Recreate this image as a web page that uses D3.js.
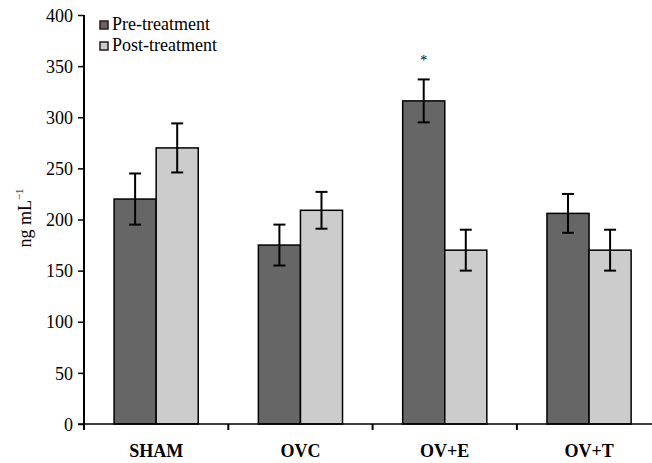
<!DOCTYPE html>
<meta charset="utf-8">
<style>
body { margin: 0; background: #fff; }
svg { display: block; }
svg text { font-family: "Liberation Serif", "Times New Roman", Times, serif; fill: #000; }
</style>
<svg width="652" height="463"></svg>
<script src="https://d3js.org/d3.v7.min.js"></script>
<script>

var groups = ["SHAM", "OVC", "OV+E", "OV+T"],
    series = ["Pre-treatment", "Post-treatment"],
    colors = ["#666666", "#cccccc"];

var preValues  = [220, 175, 316, 206],
    preErrors  = [25, 20, 21, 19],
    postValues = [270, 209, 170, 170],
    postErrors = [24, 18, 20, 20];

var yTicks = [0, 50, 100, 150, 200, 250, 300, 350, 400];
var marks = ["", "", "*", ""];

var serif = "'Liberation Serif', 'Times New Roman', serif";

var svg = d3.select("svg");

var x0 = 84, yBottom = 424, yTop = 15;

var x = d3.scaleBand()
    .domain(groups)
    .range([x0, x0 + 4 * 144.3])
    .paddingInner(0)
    .paddingOuter(0);

var xs = d3.scaleBand()
    .domain(series)
    .range([0, x.bandwidth()])
    .paddingInner(0)
    .paddingOuter(0.715);

var y = d3.scaleLinear()
    .domain([0, 400])
    .range([yBottom, yTop]);

var data = [];
groups.forEach(function(g, i) {
  data.push({ g: g, s: series[0], v: preValues[i], e: preErrors[i], c: colors[0] });
  data.push({ g: g, s: series[1], v: postValues[i], e: postErrors[i], c: colors[1] });
});

// y axis
var yAxis = svg.append("g")
    .attr("transform", "translate(" + x0 + ",0)")
    .call(d3.axisLeft(y).tickValues(yTicks).tickSize(6).tickPadding(5));
yAxis.attr("font-family", serif).attr("font-size", 18);
yAxis.select(".domain").remove();
yAxis.selectAll(".tick line").attr("stroke", "#000").attr("stroke-width", 1.5);
yAxis.selectAll(".tick text").attr("dy", "0.34em");
svg.append("line")
    .attr("x1", x0).attr("x2", x0)
    .attr("y1", yTop).attr("y2", yBottom + 6)
    .attr("stroke", "#000").attr("stroke-width", 2);

// bars
svg.append("g").selectAll("rect")
    .data(data)
  .enter().append("rect")
    .attr("x", function(d) { return x(d.g) + xs(d.s); })
    .attr("y", function(d) { return y(d.v); })
    .attr("width", xs.bandwidth())
    .attr("height", function(d) { return y(0) - y(d.v); })
    .attr("fill", function(d) { return d.c; })
    .attr("stroke", "#000")
    .attr("stroke-width", 1.5);

// error bars
var err = svg.append("g").selectAll("g")
    .data(data)
  .enter().append("g")
    .attr("transform", function(d) { return "translate(" + (x(d.g) + xs(d.s) + xs.bandwidth() / 2) + ",0)"; })
    .attr("stroke", "#000")
    .attr("stroke-width", 2);
err.append("line")
    .attr("y1", function(d) { return y(d.v + d.e); })
    .attr("y2", function(d) { return y(d.v - d.e); });
err.append("line")
    .attr("x1", -6).attr("x2", 6)
    .attr("y1", function(d) { return y(d.v + d.e); })
    .attr("y2", function(d) { return y(d.v + d.e); });
err.append("line")
    .attr("x1", -6).attr("x2", 6)
    .attr("y1", function(d) { return y(d.v - d.e); })
    .attr("y2", function(d) { return y(d.v - d.e); });

// significance marks
svg.append("g").selectAll("text")
    .data(groups)
  .enter().append("text")
    .attr("x", function(g) { return x(g) + xs(series[0]) + xs.bandwidth() / 2; })
    .attr("y", function(g, i) { return y(preValues[i] + preErrors[i]) - 14; })
    .attr("text-anchor", "middle")
    .attr("font-family", serif)
    .attr("font-size", 14)
    .text(function(g, i) { return marks[i]; });

// x axis
svg.append("line")
    .attr("x1", x0 - 6).attr("x2", 652)
    .attr("y1", yBottom).attr("y2", yBottom)
    .attr("stroke", "#000").attr("stroke-width", 1.5);
svg.append("g").selectAll("line")
    .data(groups.slice(1))
  .enter().append("line")
    .attr("x1", function(g) { return x(g); })
    .attr("x2", function(g) { return x(g); })
    .attr("y1", yBottom).attr("y2", yBottom + 6)
    .attr("stroke", "#000").attr("stroke-width", 2);

svg.append("g").selectAll("text")
    .data(groups)
  .enter().append("text")
    .attr("x", function(g) { return x(g) + x.bandwidth() / 2; })
    .attr("y", 457)
    .attr("text-anchor", "middle")
    .attr("font-family", serif)
    .attr("font-size", 18)
    .attr("font-weight", "bold")
    .text(function(g) { return g; });

// y label
var yl = svg.append("text")
    .attr("transform", "translate(31,218) rotate(-90)")
    .attr("text-anchor", "middle")
    .attr("font-family", serif)
    .attr("font-size", 18);
yl.append("tspan").text("ng mL");
yl.append("tspan").attr("dy", -8).attr("font-size", 11).text("\u22121");

// legend
var legend = svg.append("g")
    .selectAll("g")
    .data(series)
  .enter().append("g")
    .attr("transform", function(d, i) { return "translate(100," + (21 + i * 21) + ")"; });
legend.append("rect")
    .attr("width", 8).attr("height", 8)
    .attr("fill", function(d, i) { return colors[i]; })
    .attr("stroke", "#2a1a1a").attr("stroke-width", 1.5);
legend.append("text")
    .attr("x", 12).attr("y", 9)
    .attr("font-family", serif)
    .attr("font-size", 18)
    .text(function(d) { return d; });

</script>
